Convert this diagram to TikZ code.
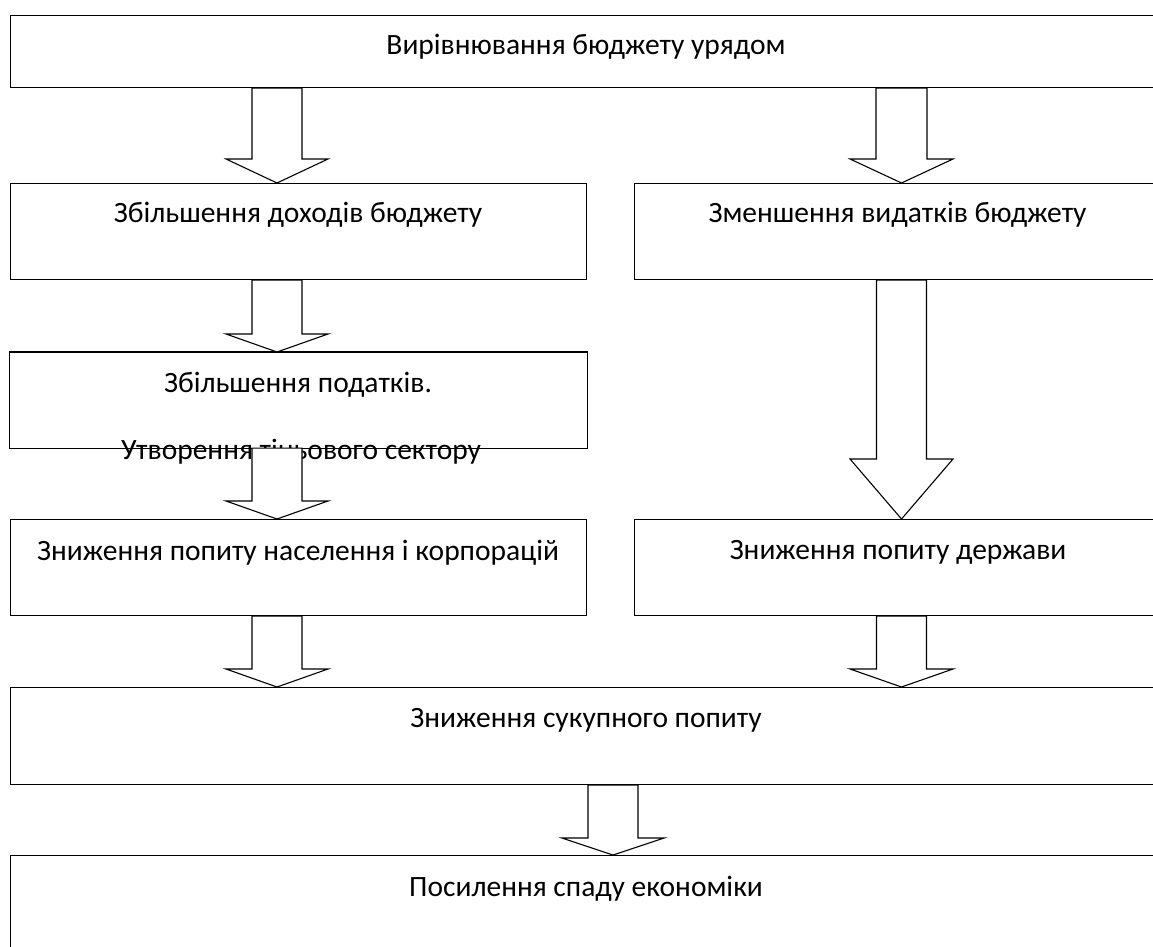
\documentclass[tikz,border=0pt]{standalone}
\usepackage{fontspec}
\setmainfont{Carlito}
\usetikzlibrary{calc}
\tikzset{
  box/.style={draw=black, line width=1.1pt, fill=white, rectangle, inner sep=0pt, anchor=north west},
  boxline/.style={draw=black, line width=1.1pt},
  txt/.style={font=\fontsize{29.5}{35}\selectfont, text=black, inner sep=0pt, anchor=base},
  arrowshape/.style={draw=black, fill=white, line width=1.1pt, line join=miter}
}
% #1 from node, #2 to node, #3 centre x, #4 shaft half width, #5 head half width, #6 head length
\newcommand\blockarr[6]{%
  \draw[arrowshape] let \p1=(#1.south), \p2=(#2.north) in
    ({#3pt-#4pt},\y1) -- ({#3pt-#4pt},{\y2+#6pt}) -- ({#3pt-#5pt},{\y2+#6pt})
    -- (#3pt,\y2) -- ({#3pt+#5pt},{\y2+#6pt}) -- ({#3pt+#4pt},{\y2+#6pt})
    -- ({#3pt+#4pt},\y1) -- cycle;}
\begin{document}
\begin{tikzpicture}[x=1pt,y=-1pt]
\useasboundingbox (0,0) rectangle (1153,947);
\fill[white] (0,0) rectangle (1153,947);
\clip (0,0) rectangle (1153,947);

% boxes
\node[box, minimum width=1152.5pt, minimum height=72pt] (b1) at (9.5,15) {};
\node[box, minimum width=576.5pt, minimum height=96pt] (b2) at (9.5,183) {};
\node[box, minimum width=528pt, minimum height=96pt] (b3) at (634,183) {};
\node[box, draw=none, minimum width=576.5pt, minimum height=95pt] (b4) at (9.5,352) {};
\node[box, minimum width=576.5pt, minimum height=96pt] (b5) at (9.5,519) {};
\node[box, minimum width=528pt, minimum height=96pt] (b6) at (634,519) {};
\node[box, minimum width=1152.5pt, minimum height=97pt] (b7) at (9.5,687) {};
\node[box, minimum width=1152.5pt, minimum height=96pt] (b8) at (9.5,855) {};

% texts
\node[txt] (t1) at (586,54.5) {Вирівнювання бюджету урядом};
\node[txt] (t2) at (298,222.5) {Збільшення доходів бюджету};
\node[txt] (t3) at (897.5,222.5) {Зменшення видатків бюджету};
\node[txt] (t4a) at (298,392.5) {Збільшення податків.};
\node[txt] (t4b) at (301,459.5) {Утворення тіньового сектору};
\node[txt] (t5) at (298,560.5) {Зниження попиту населення і корпорацій};
\node[txt] (t6) at (898,559.5) {Зниження попиту держави};
\node[txt] (t7) at (586,727.5) {Зниження сукупного попиту};
\node[txt] (t8) at (586,896.5) {Посилення спаду економіки};

% border of the box whose text runs over its lower edge
\draw[boxline] (b4.north west) rectangle (b4.south east);

% block arrows
\blockarr{b1}{b2}{277}{25}{51}{24}
\blockarr{b1}{b3}{901.5}{25.5}{51.5}{24}
\blockarr{b2}{b4}{277}{25}{51}{18}
\blockarr{b4}{b5}{277}{25}{51}{18}
\blockarr{b3}{b6}{901.5}{25}{51.5}{60}
\blockarr{b5}{b7}{277}{25}{51}{18}
\blockarr{b6}{b7}{901.5}{25}{51.5}{18}
\blockarr{b7}{b8}{613}{25}{51}{17}
\end{tikzpicture}
\end{document}
